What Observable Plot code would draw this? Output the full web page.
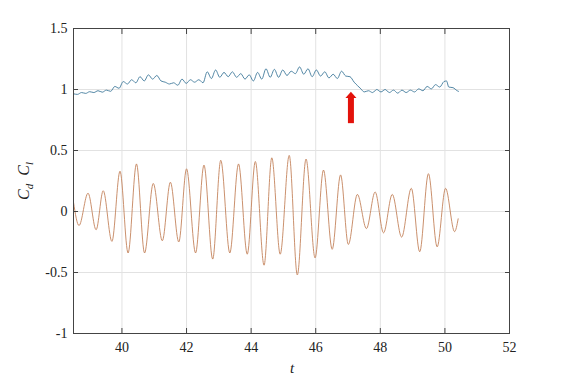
<!DOCTYPE html>
<html>
<head>
<meta charset="utf-8">
<script src="https://cdn.jsdelivr.net/npm/d3@7"></script>
<script src="https://cdn.jsdelivr.net/npm/@observablehq/plot@0.6"></script>
<style>
  html, body { margin: 0; padding: 0; background: #fff; }
  #chart svg { display: block; }
  #chart svg text { font-family: "Liberation Serif", "Times New Roman", serif !important; }
</style>
</head>
<body>
<div id="chart"></div>
<script>
// ---- data ----
// Cd (drag coefficient), local maxima/minima of the small wiggles
const cdT = [38.50,38.62,38.75,38.88,39.00,39.13,39.26,39.39,39.52,39.65,39.78,39.91,40.04,40.17,40.30,40.43,40.56,40.69,40.82,40.95,41.08,41.21,41.34,41.47,41.60,41.73,41.86,41.99,42.12,42.25,42.38,42.51,42.64,42.77,42.90,43.03,43.16,43.29,43.42,43.55,43.68,43.81,43.94,44.07,44.20,44.33,44.46,44.59,44.72,44.85,44.98,45.11,45.24,45.37,45.50,45.63,45.76,45.89,46.02,46.15,46.28,46.41,46.54,46.67,46.80,46.93,47.06,47.19,47.30,47.40,47.50,47.63,47.76,47.89,48.02,48.15,48.28,48.41,48.54,48.67,48.80,48.93,49.06,49.19,49.32,49.45,49.58,49.71,49.84,49.97,50.05,50.12,50.25,50.38,50.42];
const cdV = [0.965,0.960,0.975,0.968,0.982,0.975,0.990,0.978,0.995,0.985,1.025,1.010,1.065,1.045,1.080,1.055,1.105,1.070,1.120,1.085,1.115,1.070,1.060,1.045,1.055,1.035,1.085,1.050,1.080,1.060,1.080,1.055,1.145,1.090,1.160,1.100,1.140,1.105,1.145,1.100,1.130,1.085,1.120,1.070,1.140,1.085,1.170,1.100,1.165,1.100,1.160,1.115,1.150,1.130,1.185,1.125,1.170,1.105,1.160,1.110,1.145,1.095,1.125,1.090,1.150,1.110,1.105,1.060,1.030,1.005,0.980,0.990,0.975,1.000,0.980,1.000,0.975,0.995,0.970,0.995,0.975,0.995,0.980,1.005,0.990,1.025,1.005,1.040,1.020,1.065,1.070,1.020,1.015,0.990,0.985];

// Cl (lift coefficient), peaks and troughs
const clT = [38.50,38.67,38.95,39.20,39.42,39.69,39.94,40.19,40.45,40.70,40.97,41.25,41.50,41.76,42.00,42.28,42.54,42.81,43.06,43.34,43.61,43.88,44.13,44.40,44.64,44.90,45.18,45.43,45.70,45.98,46.24,46.51,46.77,47.01,47.29,47.57,47.84,48.10,48.37,48.66,48.96,49.22,49.49,49.76,50.02,50.30,50.41];
const clV = [0.075,-0.115,0.15,-0.15,0.17,-0.245,0.33,-0.34,0.39,-0.34,0.23,-0.24,0.24,-0.25,0.35,-0.34,0.38,-0.39,0.42,-0.34,0.39,-0.35,0.41,-0.44,0.44,-0.35,0.46,-0.52,0.43,-0.38,0.34,-0.31,0.30,-0.27,0.14,-0.14,0.16,-0.175,0.14,-0.21,0.19,-0.33,0.31,-0.29,0.19,-0.165,-0.06];

// red arrow annotation (t position, tail and tip values)
const arrowT = [47.09];
const arrowTail = [0.72];
const arrowTip = [0.98];

const xTicks = [40, 42, 44, 46, 48, 50, 52];
const yTicks = [-1, -0.5, 0, 0.5, 1, 1.5];

// ---- build tables ----
const cd = cdT.map((t, i) => ({t, v: cdV[i]}));
const cl = clT.map((t, i) => ({t, v: clV[i]}));
const arrow = arrowT.map((t, i) => ({t, y1: arrowTail[i], y2: arrowTip[i]}));

const headSymbol = {
  draw(ctx) {
    ctx.moveTo(-5.5, 3);
    ctx.lineTo(0, -3.2);
    ctx.lineTo(5.5, 3);
    ctx.closePath();
  }
};

const serif = "'Liberation Serif', 'Times New Roman', serif";
const axisColor = "#444";
const gridColor = "#e2e2e2";

const chart = Plot.plot({
  width: 563,
  height: 376,
  marginLeft: 73,
  marginRight: 54,
  marginTop: 28,
  marginBottom: 43,
  x: {domain: [38.5, 52]},
  y: {domain: [-1, 1.5]},
  style: {
    fontFamily: serif,
    fontSize: "14px",
    color: "#222",
    background: "#fff"
  },
  marks: [
    Plot.gridX(xTicks, {stroke: gridColor, strokeOpacity: 1}),
    Plot.gridY(yTicks, {stroke: gridColor, strokeOpacity: 1}),
    Plot.line(cl, {x: "t", y: "v", stroke: "#c4835c", strokeWidth: 0.9, curve: "monotone-x"}),
    Plot.line(cd, {x: "t", y: "v", stroke: "#40799b", strokeWidth: 0.9, curve: "monotone-x"}),
    Plot.ruleX(arrow, {x: "t", y1: "y1", y2: d => d.y2 - 0.05, stroke: "#e3120b", strokeWidth: 6}),
    Plot.dot(arrow, {x: "t", y: d => d.y2 - 0.025, symbol: headSymbol, fill: "#e3120b", stroke: null, r: 5}),
    Plot.frame({stroke: axisColor}),
    Plot.axisX(xTicks, {tickSize: 0, tickPadding: 9, tickFormat: d => String(d), label: null, fontFamily: serif}),
    Plot.axisX(xTicks, {tickSize: 5, dy: -5, tickFormat: () => "", label: null, stroke: axisColor}),
    Plot.axisX(xTicks, {anchor: "top", tickSize: 5, dy: 5, tickFormat: () => "", label: null, stroke: axisColor}),
    Plot.axisY(yTicks, {tickSize: 0, tickPadding: 6, tickFormat: d => String(d), label: null, fontFamily: serif}),
    Plot.axisY(yTicks, {tickSize: 5, dx: 5, tickFormat: () => "", label: null, stroke: axisColor}),
    Plot.axisY(yTicks, {anchor: "right", tickSize: 5, dx: -5, tickFormat: () => "", label: null, stroke: axisColor})
  ]
});

document.getElementById("chart").appendChild(chart);

// axis titles (italic, with subscripts)
const svg = d3.select(chart);
const yl = svg.append("text")
  .attr("transform", "translate(29,181) rotate(-90)")
  .attr("text-anchor", "middle")
  .attr("font-family", serif)
  .attr("font-style", "italic")
  .attr("font-size", 16)
  .attr("fill", "#222");
yl.append("tspan").text("C");
yl.append("tspan").attr("font-size", 11).attr("dy", 4).text("d");
yl.append("tspan").attr("dy", -4).text("\u2002C");
yl.append("tspan").attr("font-size", 11).attr("dy", 4).text("l");

svg.append("text")
  .attr("x", 292)
  .attr("y", 373)
  .attr("text-anchor", "middle")
  .attr("font-family", serif)
  .attr("font-style", "italic")
  .attr("font-size", 15)
  .attr("fill", "#222")
  .text("t");
</script>
</body>
</html>
